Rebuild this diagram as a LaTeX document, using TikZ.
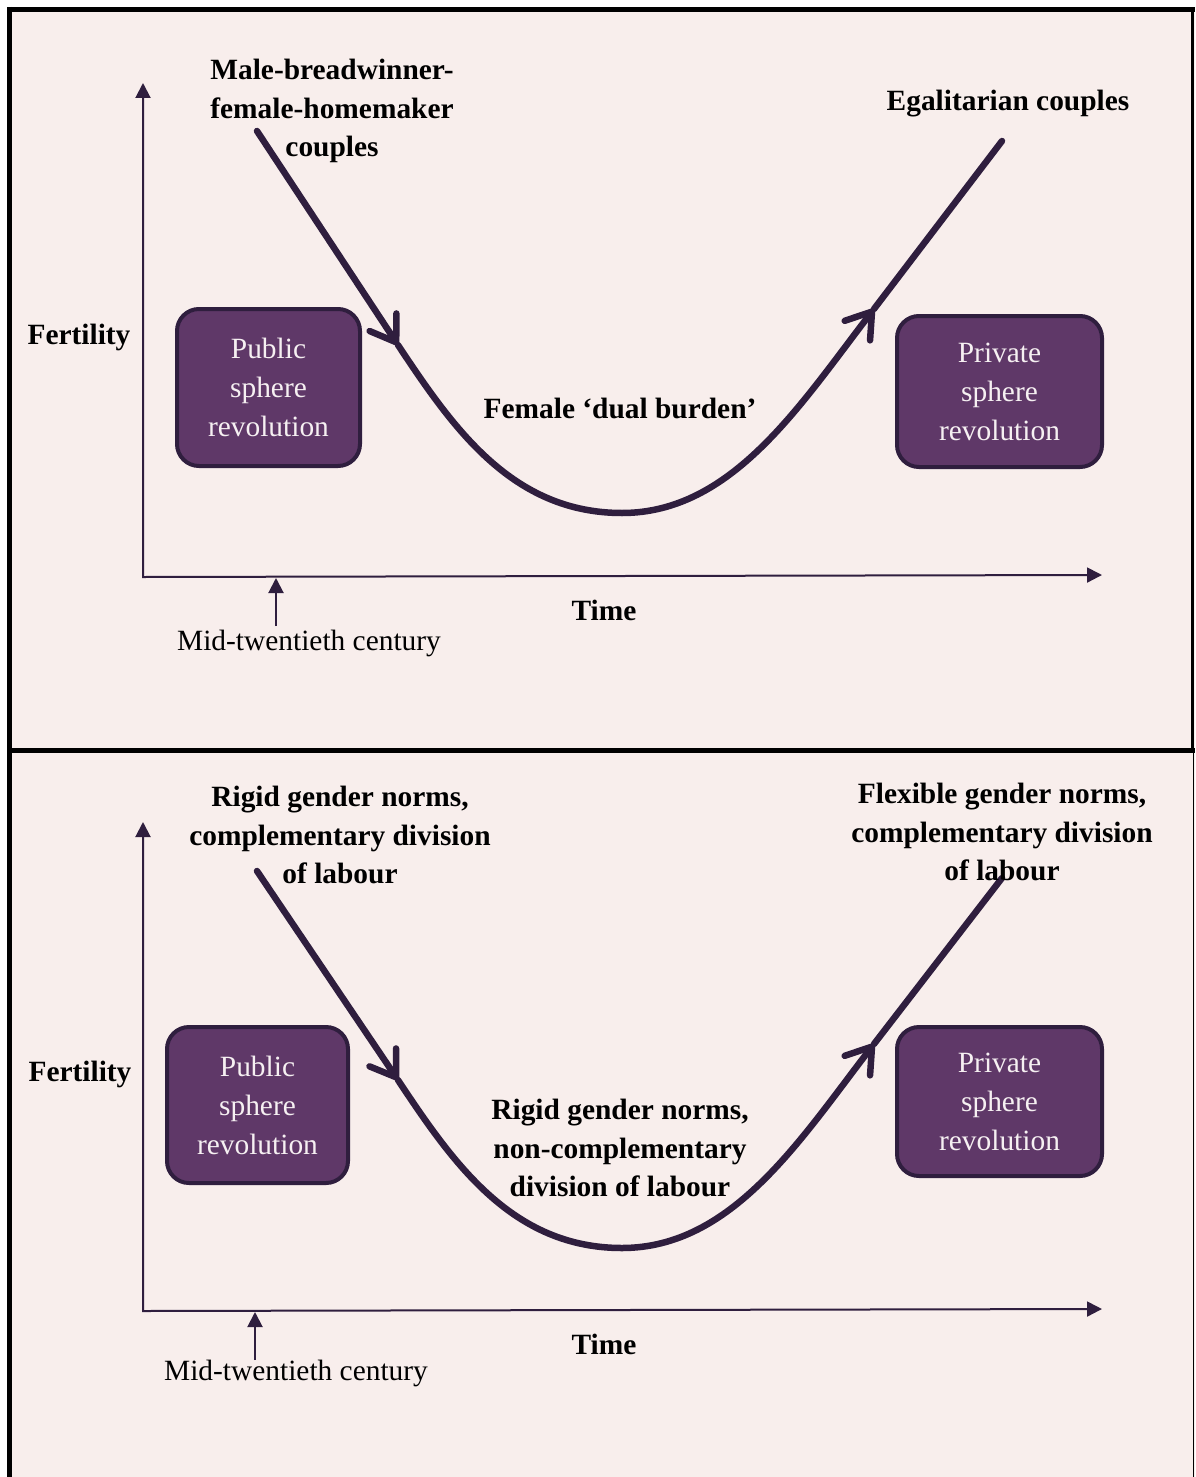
\documentclass[tikz,border=0pt]{standalone}
\usepackage{fontspec}
\setmainfont{Liberation Serif}
\usetikzlibrary{arrows.meta}
\definecolor{bg}{HTML}{F8EEEC}
\definecolor{dark}{HTML}{2F1E3E}
\definecolor{boxfill}{HTML}{5F3868}
\definecolor{boxtext}{HTML}{F6F0F2}
\begin{document}
\begin{tikzpicture}[x=1pt,y=-1pt,
 lbl/.style={font=\fontsize{29.4}{38.5}\selectfont\bfseries, align=center, inner sep=0pt, text=black},
 plain/.style={font=\fontsize{29.4}{38.5}\selectfont, inner sep=0pt, text=black},
 sphere/.style={draw=dark, line width=4pt, fill=boxfill, rounded corners=22pt, text=boxtext, align=center, font=\fontsize{29.4}{39}\selectfont, inner sep=0pt},
 axis/.style={draw=dark, line width=2pt},
 axtip/.style={{Triangle[length=15pt,width=15pt]}-{Triangle[length=15pt,width=15pt]}},
 midtip/.style={-{Triangle[length=15pt,width=15pt]}},
 trend/.style={draw=dark, line width=6.5pt, line cap=round},
 barb/.style={-{Straight Barb[length=24pt,width=32pt,round]}}
]
\useasboundingbox (0,0) rectangle (1195,1477);
% background and frame
\fill[bg] (9.5,9.5) rectangle (1195,1477);
\draw[black, line width=5pt] (9.5,7) -- (9.5,1477);
\draw[black, line width=5pt] (7,9.5) -- (1195,9.5);
\draw[black, line width=3pt] (1192.5,9.5) -- (1192.5,750);
\draw[black, line width=5pt] (9.5,750) -- (1195,750);
\draw[black, line width=1.5pt] (1193.5,750) -- (1193.5,1477);

% ---------- top panel ----------
\coordinate (o1) at (143,577);
\coordinate (yt1) at (143,83);
\coordinate (xe1) at (1102,575);
\draw[axis,axtip] (yt1) -- (o1) -- (xe1);
\node[plain] (mid1) at (309,643) {Mid-twentieth century};
\coordinate (mb1) at (276,626);
\coordinate (mt1) at (276,578);
\draw[axis,midtip] (mb1) -- (mt1);
\node[lbl] (time1) at (604,610) {Time};
\node[lbl] (fert1) at (79,337) {Fertility};

\node[sphere, minimum width=183pt, minimum height=157pt] (pub1) at (268.5,387.5) {Public\\sphere\\revolution};
\node[sphere, minimum width=205pt, minimum height=151pt] (priv1) at (999.5,391.5) {Private\\sphere\\revolution};

\coordinate (s1) at (257,131);
\coordinate (d1) at (398,345);
\coordinate (b1) at (622,513);
\coordinate (u1) at (874,309);
\coordinate (e1) at (1002,141);
\draw[trend,barb] (s1) -- (d1);
\draw[trend,barb] (d1) .. controls (453,428) and (512,513) .. (b1) .. controls (732,513) and (800,405) .. (u1);
\draw[trend] (u1) -- (e1);

\node[lbl] (mbfh) at (332,111) {Male-breadwinner-\\female-homemaker\\couples};
\node[lbl] (egal) at (1008,104) {Egalitarian couples};
\node[lbl] (dual) at (620,408) {Female ‘dual burden’};

% ---------- bottom panel ----------
\coordinate (o2) at (143,1311);
\coordinate (yt2) at (143,822);
\coordinate (xe2) at (1102,1309);
\draw[axis,axtip] (yt2) -- (o2) -- (xe2);
\node[plain] (mid2) at (296,1373) {Mid-twentieth century};
\coordinate (mb2) at (255,1360);
\coordinate (mt2) at (255,1312);
\draw[axis,midtip] (mb2) -- (mt2);
\node[lbl] (time2) at (604,1344) {Time};
\node[lbl] (fert2) at (80,1074) {Fertility};

\node[sphere, minimum width=181pt, minimum height=156pt] (pub2) at (257.5,1105) {Public\\sphere\\revolution};
\node[sphere, minimum width=205pt, minimum height=149pt] (priv2) at (999.5,1101.5) {Private\\sphere\\revolution};

\coordinate (s2) at (257,871);
\coordinate (d2) at (398,1080);
\coordinate (b2) at (622,1248);
\coordinate (u2) at (874,1044);
\coordinate (e2) at (1002,878);
\draw[trend,barb] (s2) -- (d2);
\draw[trend,barb] (d2) .. controls (453,1163) and (512,1248) .. (b2) .. controls (732,1248) and (800,1140) .. (u2);
\draw[trend] (u2) -- (e2);

\node[lbl] (rigc) at (340,835) {Rigid gender norms,\\complementary division\\of labour};
\node[lbl] (flex) at (1002,832) {Flexible gender norms,\\complementary division\\of labour};
\node[lbl] (rignc) at (620,1148) {Rigid gender norms,\\non-complementary\\division of labour};
\end{tikzpicture}
\end{document}
